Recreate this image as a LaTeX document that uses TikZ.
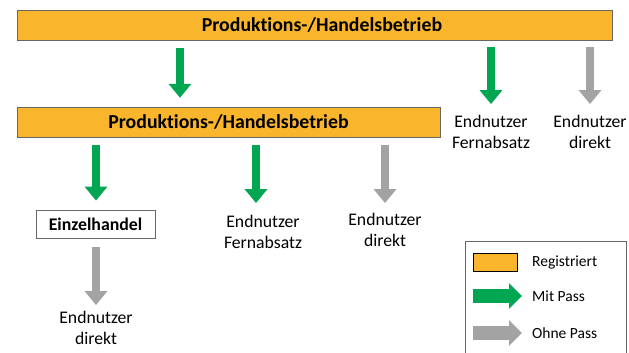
\documentclass[tikz,border=0pt]{standalone}
\usepackage{fontspec}
\setmainfont{Carlito}[Ligatures=NoCommon]
\usetikzlibrary{positioning,arrows.meta}

\definecolor{regorange}{HTML}{F9B52C}
\definecolor{passgreen}{HTML}{00A651}
\definecolor{nopassgray}{HTML}{A3A3A3}

\begin{document}
\begin{tikzpicture}[
  x=1pt, y=-1pt,
  every node/.style={font=\fontsize{17.7}{21}\selectfont},
  bar/.style={draw=gray!80!black, fill=regorange, minimum height=30pt, inner sep=0pt, font=\fontsize{19.8}{24}\selectfont\bfseries},
  box/.style={draw=gray!80!black, thick, fill=white, minimum width=119pt, minimum height=28pt, inner sep=0pt, font=\fontsize{17.8}{20}\selectfont\bfseries},
  target/.style={align=center, inner sep=0pt},
  legtext/.style={anchor=west, inner sep=0pt, font=\fontsize{15.5}{18}\selectfont},
  mitpass/.style={-{Triangle[width=22pt,length=14pt]}, line width=8.5pt, passgreen},
  ohnepass/.style={-{Triangle[width=22pt,length=14pt]}, line width=8.5pt, nopassgray},
  legarrow/.style={-{Triangle[width=25pt,length=13pt]}, line width=14pt, shorten >=10pt}
]
\useasboundingbox (0,0) rectangle (629,353);

% Top bar
\node[bar, minimum width=595pt] (top) at (314.5,25) {\hspace*{15pt}Produktions-/Handelsbetrieb};

% Second bar
\node[bar, minimum width=423pt] (bar2) at (228.5,122) {Produktions-/Handelsbetrieb};

% Targets of the top bar
\node[target] (fern1) at (491,132) {Endnutzer\\Fernabsatz};
\node[target] (direkt1) at (590,132) {Endnutzer\\direkt};

% Targets of the second bar
\node[box] (einzel) at (95.5,224) {Einzelhandel};
\node[target] (fern2) at (263,232) {Endnutzer\\Fernabsatz};
\node[target] (direkt2) at (385,230) {Endnutzer\\direkt};
\node[target] (direkt3) at (96,328) {Endnutzer\\direkt};

% Arrow positions
\coordinate (a1) at (180,0);
\coordinate (a2) at (491,0);
\coordinate (a3) at (590,0);
\coordinate (b1) at (96,0);
\coordinate (b2) at (256,0);
\coordinate (b3) at (385,0);

% Arrows from the top bar
\draw[mitpass, shorten <=8pt, shorten >=9pt] (top.south -| a1) -- (bar2.north -| a1);
\draw[mitpass, shorten <=7pt] (top.south -| a2) -- ([yshift=11pt]fern1.north -| a2);
\draw[ohnepass, shorten <=7pt] (top.south -| a3) -- ([yshift=11pt]direkt1.north -| a3);

% Arrows from the second bar
\draw[mitpass, shorten <=8pt, shorten >=9pt] (bar2.south -| b1) -- (einzel.north -| b1);
\draw[mitpass, shorten <=8pt] (bar2.south -| b2) -- ([yshift=12pt]fern2.north -| b2);
\draw[ohnepass, shorten <=8pt] (bar2.south -| b3) -- ([yshift=10pt]direkt2.north -| b3);

% Arrow from the retailer
\draw[ohnepass, shorten <=9pt] (einzel.south -| b1) -- ([yshift=6pt]direkt3.north -| b1);

% Legend
\draw[gray!80!black, thick] (465,241) rectangle (626,360);
\node[draw=black, thick, fill=regorange, minimum width=44pt, minimum height=18pt, inner sep=0pt] (legbar) at (495,262) {};
\node[legtext] (legreg) at (532,262) {Registriert};
\node[legtext] (legmit) at (532,296) {Mit Pass};
\node[legtext] (legohne) at (532,333) {Ohne Pass};
\coordinate (lm) at (473,296);
\coordinate (lo) at (473,333);
\draw[legarrow, passgreen] (lm) -- (legmit.west);
\draw[legarrow, nopassgray] (lo) -- (legohne.west);

\end{tikzpicture}
\end{document}
